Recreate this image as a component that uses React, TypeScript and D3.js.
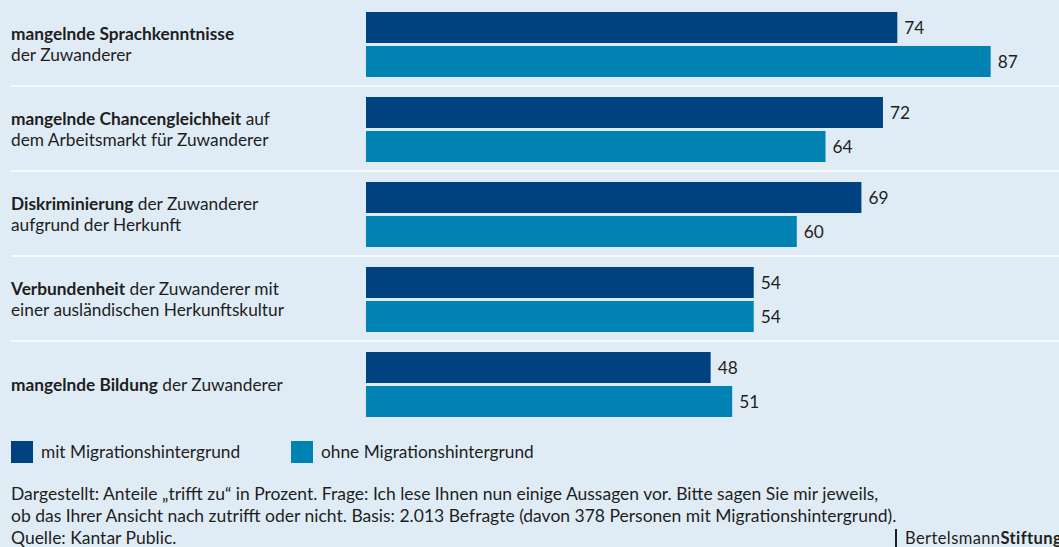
import React from "react";
import * as d3 from "d3";

const labelBold = [
  "mangelnde Sprachkenntnisse",
  "mangelnde Chancengleichheit",
  "Diskriminierung",
  "Verbundenheit",
  "mangelnde Bildung",
];
const labelRest = ["", " auf", " der Zuwanderer", " der Zuwanderer mit", " der Zuwanderer"];
const labelLine2 = [
  "der Zuwanderer",
  "dem Arbeitsmarkt für Zuwanderer",
  "aufgrund der Herkunft",
  "einer ausländischen Herkunftskultur",
  "",
];
const mitValues = [74, 72, 69, 54, 48];
const ohneValues = [87, 64, 60, 54, 51];
const seriesNames = ["mit Migrationshintergrund", "ohne Migrationshintergrund"];
const noteLines = [
  "Dargestellt: Anteile „trifft zu“ in Prozent. Frage: Ich lese Ihnen nun einige Aussagen vor. Bitte sagen Sie mir jeweils,",
  "ob das Ihrer Ansicht nach zutrifft oder nicht. Basis: 2.013 Befragte (davon 378 Personen mit Migrationshintergrund).",
  "Quelle: Kantar Public.",
];

const W = 1059;
const H = 547;
const BG = "#e0ecf5";
const DARK = "#004280";
const LIGHT = "#0083b3";
const TEXT = "#1e1e1e";
const FONT = "Lato, 'Open Sans', sans-serif";
const FS = 17.3;

export default function App() {
  const idx = d3.range(labelBold.length);
  const y = d3.scaleBand<number>().domain(idx).range([1, 426]);
  const x = d3.scaleLinear().domain([0, 100]).range([366, 1084]);
  const barH = 31;
  const gap = 3;
  const top = 11;

  const series = [
    { values: mitValues, color: DARK },
    { values: ohneValues, color: LIGHT },
  ];

  return (
    <svg
      width={W}
      height={H}
      style={{ position: "absolute", left: 0, top: 0 }}
      fontFamily={FONT}
    >
      <rect width={W} height={H} fill={BG} />

      {/* separators */}
      {idx.slice(0, -1).map((i) => (
        <line
          key={"sep" + i}
          x1={11}
          x2={W}
          y1={(y(i) ?? 0) + y.bandwidth()}
          y2={(y(i) ?? 0) + y.bandwidth()}
          stroke="#ffffff"
          strokeWidth={1.5}
        />
      ))}

      {idx.map((i) => {
        const g = (y(i) ?? 0) + top;
        const mid = g + barH + gap / 2;
        const twoLines = labelLine2[i] !== "";
        return (
          <g key={"grp" + i}>
            {series.map((s, k) => {
              const by = g + k * (barH + gap);
              return (
                <g key={k}>
                  <rect
                    x={x(0)}
                    y={by}
                    width={x(s.values[i]) - x(0)}
                    height={barH}
                    fill={s.color}
                  />
                  <text
                    x={x(s.values[i]) + 7}
                    y={by + barH / 2}
                    dy="0.35em"
                    fontSize={FS}
                    fill={TEXT}
                  >
                    {s.values[i]}
                  </text>
                </g>
              );
            })}
            <text
              x={11}
              y={twoLines ? mid - 10.5 : mid}
              dy="0.35em"
              fontSize={FS}
              fill={TEXT}
            >
              <tspan fontWeight="bold">{labelBold[i]}</tspan>
              <tspan>{labelRest[i]}</tspan>
            </text>
            {twoLines && (
              <text x={11} y={mid + 10.5} dy="0.35em" fontSize={FS} fill={TEXT}>
                {labelLine2[i]}
              </text>
            )}
          </g>
        );
      })}

      {/* legend */}
      {seriesNames.map((name, k) => {
        const lx = 11 + k * 280;
        return (
          <g key={"leg" + k}>
            <rect x={lx} y={441} width={22} height={22} fill={k === 0 ? DARK : LIGHT} />
            <text x={lx + 30} y={452} dy="0.35em" fontSize={FS} fill={TEXT}>
              {name}
            </text>
          </g>
        );
      })}

      {/* footnote */}
      {noteLines.map((t, i) => (
        <text key={"note" + i} x={11} y={494 + i * 22} dy="0.35em" fontSize={17.5} fill={TEXT}>
          {t}
        </text>
      ))}

      {/* logo */}
      <line x1={896} x2={896} y1={529} y2={547} stroke={TEXT} strokeWidth={2} />
      <text x={905} y={538} dy="0.35em" fontSize={16.5} fill={TEXT} letterSpacing={0.4}>
        Bertelsmann<tspan fontWeight="bold">Stiftung</tspan>
      </text>
    </svg>
  );
}
